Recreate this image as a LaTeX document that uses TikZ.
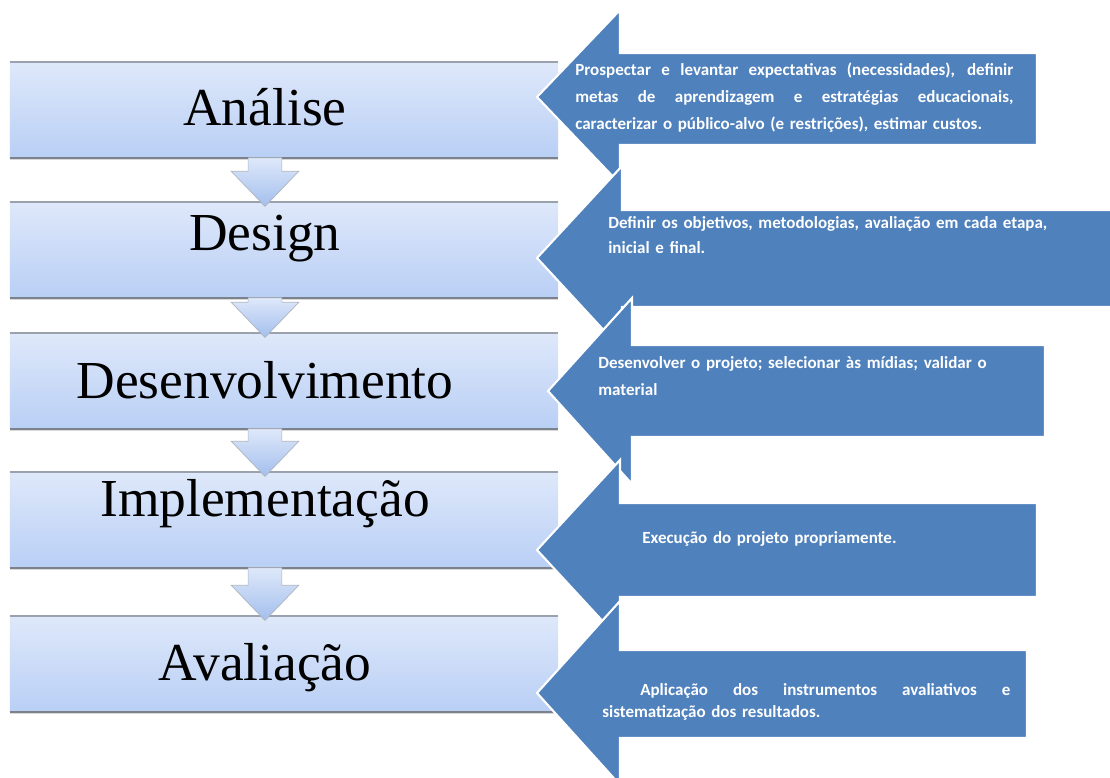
\documentclass[tikz,border=0pt]{standalone}
\usepackage{fontspec}
\setmainfont{Liberation Serif}
\newfontfamily\calloutfont{Carlito}
\usetikzlibrary{calc,shadows}

\definecolor{stagetop}{HTML}{DEE8FA}
\definecolor{stagebot}{HTML}{B9CFF5}
\definecolor{stageedge}{HTML}{9AA2AE}
\definecolor{arrowbot}{HTML}{A3BFED}
\definecolor{calloutblue}{HTML}{4F81BD}

% one justified line of a given width
\newcommand{\fillline}[2]{\makebox[#1][s]{\spaceskip=0.23em plus 1fil\relax #2}}

\tikzset{
    stage/.style={
        rectangle, minimum width=13.7cm, minimum height=2.375cm,
        top color=stagetop, bottom color=stagebot,
        drop shadow={shadow xshift=0pt, shadow yshift=-1.8pt, opacity=0.3}
    },
    stageline/.style={draw=stageedge, line width=1.2pt},
    stagelabel/.style={anchor=base, inner sep=0pt, font=\fontsize{38}{40}\selectfont},
    downarrow/.style={top color=stagetop, bottom color=arrowbot, draw=stageedge!80, line width=0.5pt},
    callout/.style={fill=calloutblue, draw=white, line width=1.5pt, line join=miter},
    callouttext/.style={anchor=base west, inner sep=0pt, text=white, align=left,
        font=\calloutfont\bfseries\fontsize{12.1}{#1}\selectfont},
    callouttext/.default=19.2pt
}

\begin{document}
\begin{tikzpicture}[x=0.025cm, y=-0.025cm]
    \useasboundingbox[fill=white] (0,0) rectangle (1110,777);

    % The five stages and their names.
    \foreach \n/\y/\b/\t in {analise/110/125/Análise, design/250/250/Design,
            desenv/381/398/Desenvolvimento, implem/520/516/Implementação,
            avalia/664/680/Avaliação} {
        \node[stage] (\n) at (284,\y) {};
        \draw[stageline] (\n.north west) -- (\n.north east);
        \draw[stageline, stageedge!80!black] (\n.south west) -- (\n.south east);
        \node[stagelabel] (\n-l) at (265,\b) {\t};
    }

    % Fat arrows from one stage to the next.
    \foreach \a/\b in {analise/design, design/desenv, desenv/implem, implem/avalia}
        \draw[downarrow] let \p1=(\a-l|-\a.south), \p2=(\b-l|-\b.north) in
            (\x1-12pt,\y1) -- (\x1-12pt,\y2+22pt) -- (\x1-24pt,\y2+22pt)
            -- (\x1,\y2-3pt) -- (\x1+24pt,\y2+22pt) -- (\x1+12pt,\y2+22pt)
            -- (\x1+12pt,\y1) -- cycle;

    % Block arrows on the right: tip x, head x, tip y, shaft top, shaft bottom, end x, half head.
    \foreach \tx/\hx/\ty/\st/\sb/\ex/\hh in {537/620/97/53/145/1037/87,
            537/622/258/210/307/1116/92, 548/632/391/345/437/1045/93,
            537/620/550/503/597/1037/90, 537/620/693/650/738/1027/92}
        \draw[callout] (\tx,\ty) -- (\hx,\ty-\hh) -- (\hx,\st) -- (\ex,\st)
            -- (\ex,\sb) -- (\hx,\sb) -- (\hx,\ty+\hh) -- cycle;

    \node[callouttext, text width=10.95cm] (t-analise) at (575,75)
        {\fillline{10.95cm}{Prospectar e levantar expectativas (necessidades), definir}\\
         \fillline{10.95cm}{metas de aprendizagem e estratégias educacionais,}\\
         caracterizar o público-alvo (e restrições), estimar custos.};
    \node[callouttext=17.8pt, text width=12cm] (t-design) at (608,228)
        {Definir os objetivos, metodologias, avaliação em cada etapa,\\ inicial e final.};
    \node[callouttext, text width=11cm] (t-desenv) at (598,368)
        {Desenvolver o projeto; selecionar às mídias; validar o\\ material};
    \node[callouttext, text width=9cm] (t-implem) at (642,543)
        {Execução do projeto propriamente.};
    \node[callouttext=15.8pt, text width=10.2cm] (t-avalia) at (602,695)
        {\hspace*{0.95cm}\fillline{9.25cm}{Aplicação dos instrumentos avaliativos e}\\
         sistematização dos resultados.};
\end{tikzpicture}
\end{document}
